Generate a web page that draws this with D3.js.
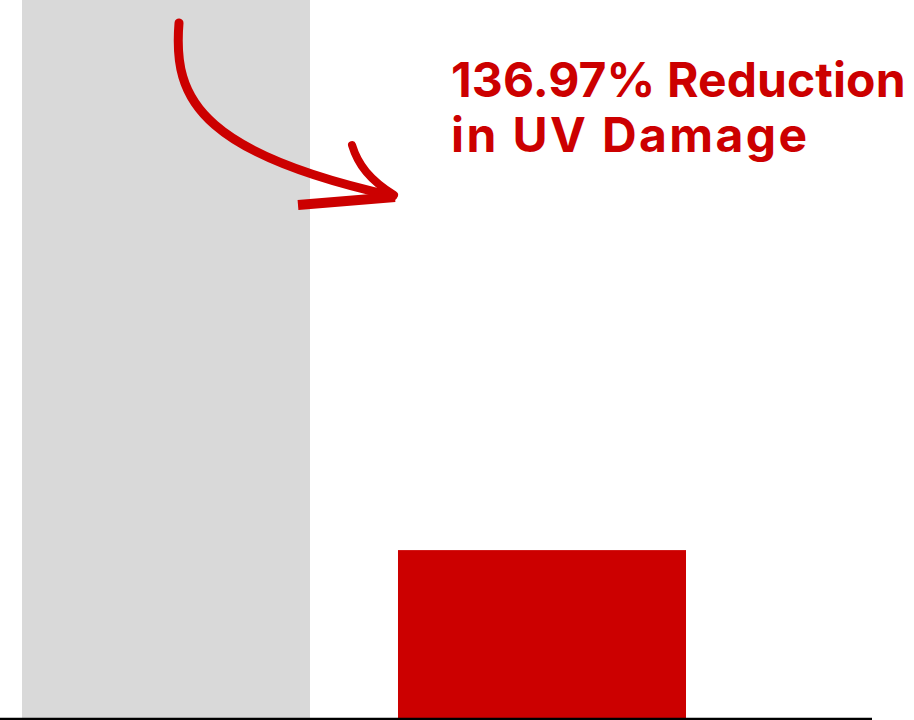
<!DOCTYPE html>
<html>
<head>
<meta charset="utf-8">
<script src="https://cdn.jsdelivr.net/npm/d3@7"></script>
<style>
  body { margin: 0; background: #fff; }
  svg { display: block; }
</style>
</head>
<body>
<svg width="914" height="720"></svg>
<script>
// data
const groups = ['Control', 'Treated']
const values = [100, 23]
const barColors = ['#d9d9d9', '#cc0000']
const noteLines = ['136.97% Reduction', 'in UV Damage']
const noteSpacing = [0.1, 2.4]

const svg = d3.select('svg')

const x = d3.scaleBand().domain(groups).range([22, 686]).paddingInner(0.234).paddingOuter(0)
const y = d3.scaleLinear().domain([0, 100]).range([718, -12])

svg.selectAll('rect.bar').data(groups)
  .enter().append('rect')
  .attr('class', 'bar')
  .attr('x', d => x(d))
  .attr('width', x.bandwidth())
  .attr('y', (d, i) => y(values[i]))
  .attr('height', (d, i) => y(0) - y(values[i]))
  .attr('fill', (d, i) => barColors[i])

// baseline
svg.append('line')
  .attr('x1', 0).attr('x2', 872)
  .attr('y1', y(0) + 1).attr('y2', y(0) + 1)
  .attr('stroke', '#000')
  .attr('stroke-width', 2.4)

// hand drawn arrow
const arrow = svg.append('g')
  .attr('fill', 'none')
  .attr('stroke', '#cc0000')
  .attr('stroke-linecap', 'round')

arrow.append('path')
  .attr('stroke-width', 9)
  .attr('d', 'M179,23 C176,60 180,95 215,125 C255,160 330,182 393,196')
arrow.append('path')
  .attr('stroke-width', 8)
  .attr('d', 'M352,145 C358,165 370,180 394,195')
arrow.append('path')
  .attr('stroke-width', 10)
  .attr('stroke-linecap', 'butt')
  .attr('d', 'M298,205 L395,197')

svg.append('text')
  .attr('x', 451)
  .attr('y', 97)
  .attr('fill', '#cc0000')
  .style('font-family', 'Inter, "Open Sans", sans-serif')
  .style('font-weight', 700)
  .style('font-size', '48px')
  .selectAll('tspan').data(noteLines)
  .enter().append('tspan')
  .attr('x', 451)
  .attr('dy', (d, i) => i ? 55 : 0)
  .style('letter-spacing', (d, i) => noteSpacing[i] + 'px')
  .text(d => d)
</script>
</body>
</html>
